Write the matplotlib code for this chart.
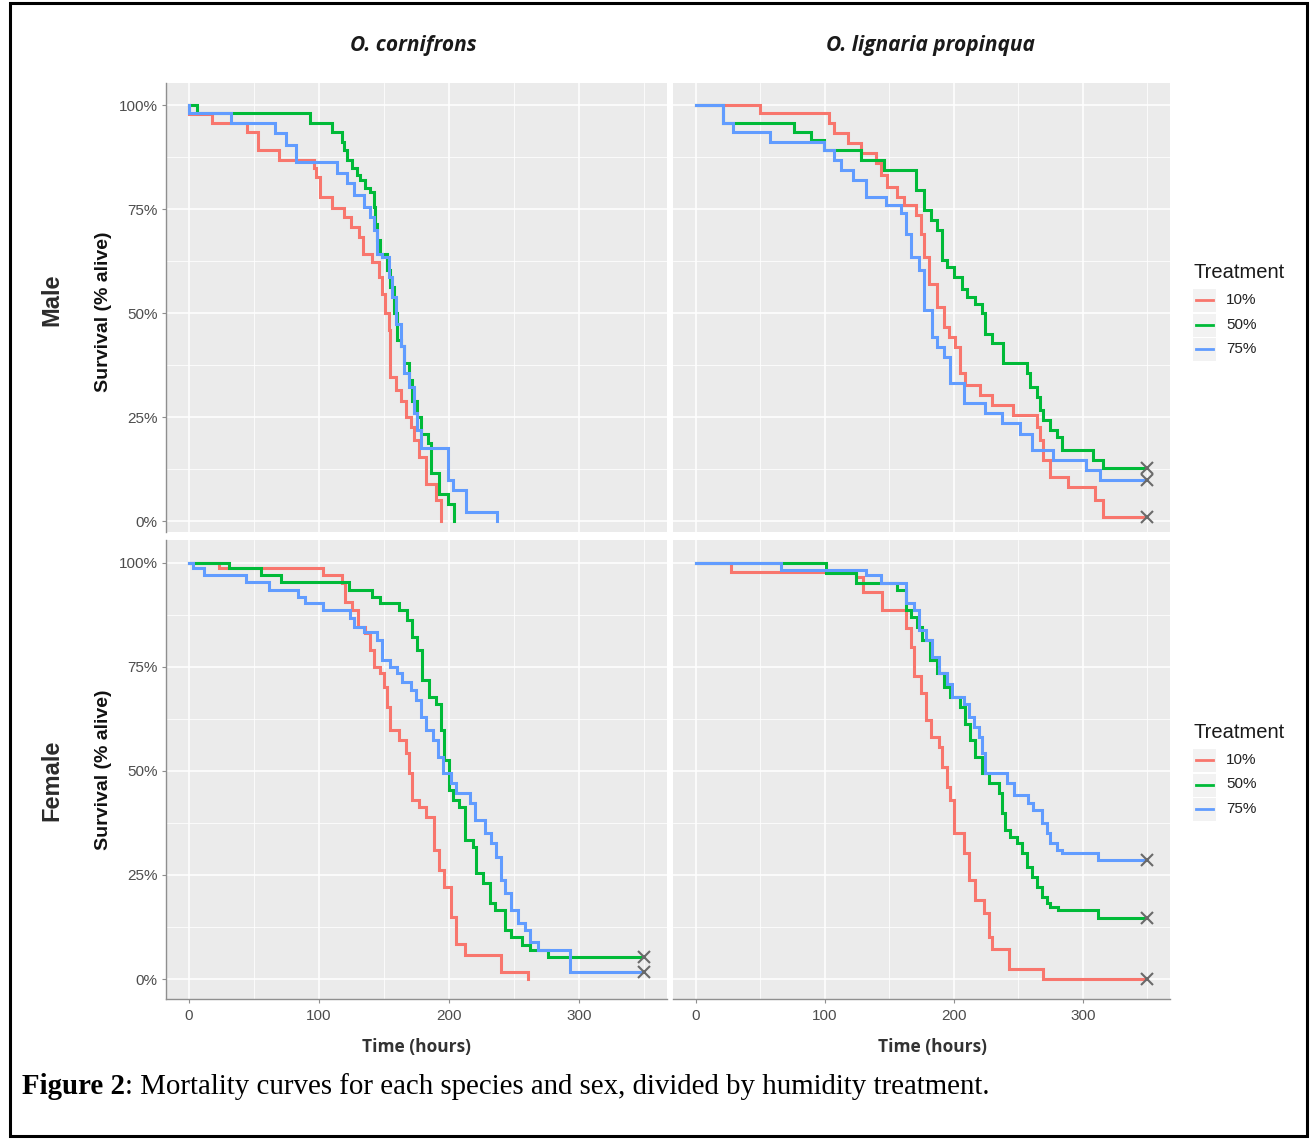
import matplotlib
matplotlib.use('Agg')
import matplotlib.pyplot as plt
from matplotlib.patches import Rectangle
from matplotlib.lines import Line2D

# ---------------- data (time in hours, survival fraction after each drop) -------------
treatments = ['10%', '50%', '75%']
species = ['O. cornifrons', 'O. lignaria propinqua']
sexes = ['Male', 'Female']
x_ticks = [0, 100, 200, 300]
y_ticks = [0, 0.25, 0.5, 0.75, 1.0]
y_ticklabels = ['0%', '25%', '50%', '75%', '100%']
study_end = 350

# O. cornifrons, male
corn_m_10_t = [0.5, 18, 45, 53, 69, 96, 98, 101, 110, 119, 125, 130.5, 134, 141, 146, 148.5, 151, 154, 155, 159,
               163, 167, 170.5, 173, 177, 182, 190, 194]
corn_m_10_s = [0.978, 0.957, 0.936, 0.892, 0.868, 0.848, 0.828, 0.78, 0.752, 0.731, 0.707, 0.683, 0.643, 0.623,
               0.587, 0.547, 0.50, 0.46, 0.347, 0.315, 0.29, 0.25, 0.227, 0.195, 0.155, 0.09, 0.05, 0.0]
corn_m_50_t = [6.5, 93, 110, 117.6, 119, 121.6, 125.3, 129.2, 131.8, 135.7, 139.5, 142.1, 143.4, 144.7, 147.3,
               152.5, 155, 157.6, 160.2, 162.8, 165.4, 169.3, 171.8, 175.7, 178.3, 183.5, 186, 192.5, 199, 204]
corn_m_50_s = [0.98, 0.957, 0.936, 0.912, 0.892, 0.868, 0.848, 0.832, 0.82, 0.80, 0.79, 0.755, 0.715, 0.675, 0.643,
               0.603, 0.563, 0.50, 0.435, 0.42, 0.38, 0.34, 0.29, 0.25, 0.21, 0.187, 0.115, 0.066, 0.042, 0.0]
corn_m_75_t = [0.5, 32.3, 66, 75, 82.6, 113.7, 121.6, 126.7, 134.4, 139.5, 142, 144.7, 148.6, 153.8, 156.3, 159,
               162.8, 165.4, 169.3, 173, 175.7, 178.3, 199, 203, 213.4, 236.6]
corn_m_75_s = [0.98, 0.957, 0.932, 0.904, 0.864, 0.836, 0.812, 0.784, 0.755, 0.731, 0.70, 0.643, 0.635, 0.587,
               0.539, 0.475, 0.42, 0.355, 0.323, 0.26, 0.22, 0.175, 0.098, 0.074, 0.022, 0.0]

# O. lignaria propinqua, male
lign_m_10_t = [49.6, 103.6, 107.4, 117.7, 128, 139.6, 143.4, 148.6, 156.3, 161.4, 170.4, 174.3, 176.8, 180.7, 187,
               192.3, 196, 201.3, 205, 208.9, 220.5, 229.5, 246.2, 264.2, 267, 269.3, 274.5, 288.6, 309.2, 315.6]
lign_m_10_s = [0.98, 0.956, 0.932, 0.908, 0.884, 0.86, 0.832, 0.804, 0.78, 0.76, 0.736, 0.691, 0.635, 0.571, 0.515,
               0.467, 0.443, 0.419, 0.355, 0.327, 0.303, 0.279, 0.255, 0.227, 0.195, 0.147, 0.107, 0.082, 0.05, 0.01]
lign_m_50_t = [21.3, 76.6, 89.4, 99.7, 128, 146, 170.4, 176.8, 182, 187, 191, 194.8, 200, 206.4, 210.3, 216.7,
               221.9, 224.4, 229.6, 238.5, 256.5, 259.1, 264.2, 266.8, 269.3, 274.5, 279.6, 283.5, 307.9, 315.6]
lign_m_50_s = [0.957, 0.936, 0.916, 0.892, 0.868, 0.844, 0.796, 0.748, 0.724, 0.70, 0.627, 0.611, 0.587, 0.559,
               0.539, 0.523, 0.50, 0.451, 0.427, 0.379, 0.355, 0.323, 0.299, 0.267, 0.243, 0.219, 0.203, 0.171,
               0.147, 0.127]
lign_m_75_t = [21.3, 29, 57.3, 99.7, 107.4, 112.6, 121.6, 131.9, 147.3, 158.8, 162.7, 166.5, 172.9, 176.8, 183.2,
               187, 192.3, 197.4, 207.7, 224.4, 237.2, 251.4, 260.4, 277, 302.8, 313.1]
lign_m_75_s = [0.957, 0.936, 0.912, 0.892, 0.868, 0.844, 0.82, 0.78, 0.76, 0.74, 0.691, 0.635, 0.603, 0.507, 0.443,
               0.419, 0.395, 0.331, 0.283, 0.259, 0.235, 0.21, 0.171, 0.147, 0.123, 0.098]

# O. cornifrons, female
corn_f_10_t = [23, 103.4, 117.5, 120, 125.3, 130.4, 135.7, 139.5, 142, 147.3, 149.9, 152.5, 155, 161.5, 166.7,
               169.3, 171.8, 177, 182.2, 188.6, 192.5, 196.4, 201.6, 205.5, 212, 240.3, 261]
corn_f_10_s = [0.987, 0.971, 0.951, 0.907, 0.887, 0.847, 0.831, 0.791, 0.751, 0.735, 0.702, 0.654, 0.598, 0.574,
               0.542, 0.494, 0.43, 0.414, 0.39, 0.31, 0.262, 0.222, 0.15, 0.085, 0.057, 0.017, 0.0]
corn_f_50_t = [31, 55.6, 71, 122.8, 140.8, 147.3, 161.5, 168, 171.8, 175.7, 179.6, 184.8, 189.9, 193.8, 196.4,
               200.3, 202.8, 208, 212, 218.4, 221, 226.1, 231.3, 235.1, 242.9, 248, 256, 262, 276.2]
corn_f_50_s = [0.987, 0.971, 0.955, 0.935, 0.919, 0.903, 0.887, 0.863, 0.823, 0.791, 0.719, 0.678, 0.662, 0.598,
               0.526, 0.454, 0.43, 0.414, 0.334, 0.318, 0.254, 0.23, 0.182, 0.166, 0.117, 0.101, 0.081, 0.069,
               0.053]
corn_f_75_t = [3.1, 11.6, 44, 62, 84, 89.1, 103.4, 124, 126.6, 134.4, 144.7, 148.6, 155, 160.2, 164.1, 170.5,
               174.4, 178.3, 182.2, 187.3, 191.2, 195.1, 201.6, 205.5, 215.8, 219.7, 227.4, 232.6, 236.4, 240.3,
               242.9, 248, 253.2, 258.4, 262.2, 268.7, 293.2]
corn_f_75_s = [0.987, 0.971, 0.955, 0.935, 0.919, 0.903, 0.887, 0.867, 0.847, 0.835, 0.815, 0.767, 0.751, 0.735,
               0.714, 0.694, 0.671, 0.63, 0.598, 0.574, 0.534, 0.494, 0.47, 0.446, 0.422, 0.382, 0.35, 0.326, 0.294,
               0.238, 0.206, 0.166, 0.134, 0.117, 0.09, 0.069, 0.017]

# O. lignaria propinqua, female
lign_f_10_t = [27.8, 124.1, 129.3, 144.7, 162.7, 166.5, 169.1, 174.3, 178.1, 182, 188.4, 191, 194.8, 197.4, 200,
               207.7, 211.5, 216.7, 223.1, 227, 229.6, 242.5, 269.3]
lign_f_10_s = [0.979, 0.967, 0.931, 0.887, 0.843, 0.799, 0.727, 0.687, 0.622, 0.582, 0.558, 0.51, 0.462, 0.43,
               0.35, 0.302, 0.238, 0.19, 0.158, 0.101, 0.073, 0.025, 0.0]
lign_f_50_t = [101, 124.1, 156.3, 162.7, 166.5, 171.6, 175.5, 181.9, 187, 192.3, 197.4, 205.1, 209, 212.8, 216.7,
               221.8, 227, 234.7, 237.2, 239.8, 243.7, 248.8, 252.7, 256.6, 260.4, 264.3, 268.1, 272, 274.5, 280.9,
               311.8]
lign_f_50_s = [0.975, 0.951, 0.935, 0.887, 0.871, 0.847, 0.815, 0.767, 0.735, 0.702, 0.678, 0.654, 0.614, 0.574,
               0.534, 0.494, 0.47, 0.446, 0.398, 0.358, 0.342, 0.326, 0.302, 0.27, 0.246, 0.222, 0.198, 0.182,
               0.174, 0.166, 0.146]
lign_f_75_t = [66.3, 131.9, 143.4, 162.7, 169.1, 173, 178.1, 183.2, 188.4, 194.8, 198.7, 207.7, 211.5, 215.4,
               219.3, 221.8, 224.4, 241.1, 246.3, 257.8, 261.7, 268.1, 272, 274.5, 279.6, 283.5, 311.8]
lign_f_75_s = [0.983, 0.971, 0.951, 0.903, 0.887, 0.839, 0.815, 0.775, 0.735, 0.71, 0.678, 0.662, 0.63, 0.606,
               0.582, 0.542, 0.494, 0.47, 0.442, 0.422, 0.406, 0.374, 0.35, 0.326, 0.31, 0.302, 0.286]

# censored (still alive at end of study) flags per panel/treatment
corn_m_censored = [False, False, False]
lign_m_censored = [True, True, True]
corn_f_censored = [False, True, True]
lign_f_censored = [True, True, True]

# ---------------- styling ----------------
colors = ['#F8766D', '#00BA38', '#619CFF']
W, H = 1310, 1139
fig = plt.figure(figsize=(W / 100, H / 100), dpi=100)


def fx(x):
    return x / W


def fy(y):
    return 1 - y / H


def add_panel(l, t, r, b):
    return fig.add_axes([fx(l), fy(b), fx(r) - fx(l), fy(t) - fy(b)])


def style(ax, ylim, left, bottom):
    ax.set_facecolor('#EBEBEB')
    ax.set_xlim(-17.5, 367.5)
    ax.set_ylim(*ylim)
    ax.set_xticks(x_ticks)
    ax.set_xticks([50, 150, 250, 350], minor=True)
    ax.set_yticks(y_ticks)
    ax.set_yticks([0.125, 0.375, 0.625, 0.875], minor=True)
    ax.set_yticklabels(y_ticklabels)
    ax.grid(which='major', color='white', lw=1.1)
    ax.grid(which='minor', color='white', lw=0.55)
    ax.set_axisbelow(True)
    for s in ax.spines.values():
        s.set_visible(False)
    if left:
        ax.spines['left'].set_visible(True)
        ax.spines['left'].set_color('#8f8f8f')
        ax.spines['left'].set_linewidth(1.0)
    if bottom:
        ax.spines['bottom'].set_visible(True)
        ax.spines['bottom'].set_color('#8f8f8f')
        ax.spines['bottom'].set_linewidth(1.0)
    ax.tick_params(which='minor', length=0)
    ax.tick_params(axis='y', which='major', left=left, labelleft=left, length=3, color='#8f8f8f',
                   labelsize=11, labelcolor='#4D4D4D', pad=3)
    ax.tick_params(axis='x', which='major', bottom=bottom, labelbottom=bottom, length=3, color='#8f8f8f',
                   labelsize=11, labelcolor='#4D4D4D', pad=4)
    for lab in ax.get_xticklabels() + ax.get_yticklabels():
        lab.set_family('Liberation Sans')


def draw(ax, series, censored):
    for (t, s), c, cen in zip(series, colors, censored):
        x = [0] + t
        y = [1.0] + s
        if cen:
            x = x + [study_end]
            y = y + [s[-1]]
        ax.step(x, y, where='post', color=c, lw=2.2, zorder=3, solid_joinstyle='miter')
        if cen:
            ax.plot([study_end], [s[-1]], marker='x', ms=8, mew=1.5, color='#6a6a6a', zorder=4)


ax_tl = add_panel(166, 83, 667, 532)
ax_tr = add_panel(673, 83, 1170, 532)
ax_bl = add_panel(166, 540, 667, 999)
ax_br = add_panel(673, 540, 1170, 999)

top_ylim = (-0.026, 1.053)
bot_ylim = (-0.048, 1.055)
style(ax_tl, top_ylim, True, False)
style(ax_tr, top_ylim, False, False)
style(ax_bl, bot_ylim, True, True)
style(ax_br, bot_ylim, False, True)

draw(ax_tl, [(corn_m_10_t, corn_m_10_s), (corn_m_50_t, corn_m_50_s), (corn_m_75_t, corn_m_75_s)], corn_m_censored)
draw(ax_tr, [(lign_m_10_t, lign_m_10_s), (lign_m_50_t, lign_m_50_s), (lign_m_75_t, lign_m_75_s)], lign_m_censored)
draw(ax_bl, [(corn_f_10_t, corn_f_10_s), (corn_f_50_t, corn_f_50_s), (corn_f_75_t, corn_f_75_s)], corn_f_censored)
draw(ax_br, [(lign_f_10_t, lign_f_10_s), (lign_f_50_t, lign_f_50_s), (lign_f_75_t, lign_f_75_s)], lign_f_censored)

# ---------------- texts ----------------
title_kw = dict(family='Open Sans', weight='bold', style='italic', size=15, color='#1a1a1a',
                ha='center', va='center')
fig.text(fx(413), fy(45), species[0], **title_kw)
fig.text(fx(930), fy(45), species[1], **title_kw)

for yc, sex in zip([300, 780], sexes):
    fig.text(fx(52), fy(yc), sex, family='Liberation Sans', weight='bold', size=17, color='#2b2b2b',
             rotation=90, ha='center', va='center')
for yc in [312, 770]:
    fig.text(fx(103), fy(yc), 'Survival (% alive)', family='Liberation Sans', weight='bold', size=14,
             color='#111111', rotation=90, ha='center', va='center')
for xc in [417, 932]:
    fig.text(fx(xc), fy(1047), 'Time (hours)', family='Open Sans', weight='bold', size=12.5,
             color='#333333', ha='center', va='center')


# legends
def legend(y_title):
    fig.text(fx(1193), fy(y_title), 'Treatment', family='Liberation Sans', size=14.5, color='#1a1a1a',
             ha='left', va='center')
    for i, (lab, c) in enumerate(zip(treatments, colors)):
        yk = y_title + 27 + i * 24.5
        fig.patches.append(Rectangle((fx(1193), fy(yk + 12)), fx(23), 23 / H, transform=fig.transFigure,
                                     facecolor='#F2F2F2', edgecolor='none'))
        fig.lines.append(Line2D([fx(1196), fx(1213)], [fy(yk), fy(yk)], transform=fig.transFigure,
                                color=c, lw=2.0))
        fig.text(fx(1226), fy(yk), lab, family='Liberation Sans', size=11, color='#222222',
                 ha='left', va='center')


legend(273)
legend(733)

# border
fig.patches.append(Rectangle((fx(10), fy(1136)), fx(1297), 1133 / H, transform=fig.transFigure,
                             fill=False, edgecolor='black', lw=2.2))

# caption
cap_kw = dict(family='Liberation Serif', size=20.8, color='black', va='center', ha='left')
t1 = fig.text(fx(22), fy(1087), 'Figure 2', weight='bold', **cap_kw)
fig.canvas.draw()
bb = t1.get_window_extent(renderer=fig.canvas.get_renderer())
fig.text(bb.x1 / W, fy(1087), ': Mortality curves for each species and sex, divided by humidity treatment.',
         **cap_kw)

fig.savefig('out.png', dpi=100, facecolor='white')
